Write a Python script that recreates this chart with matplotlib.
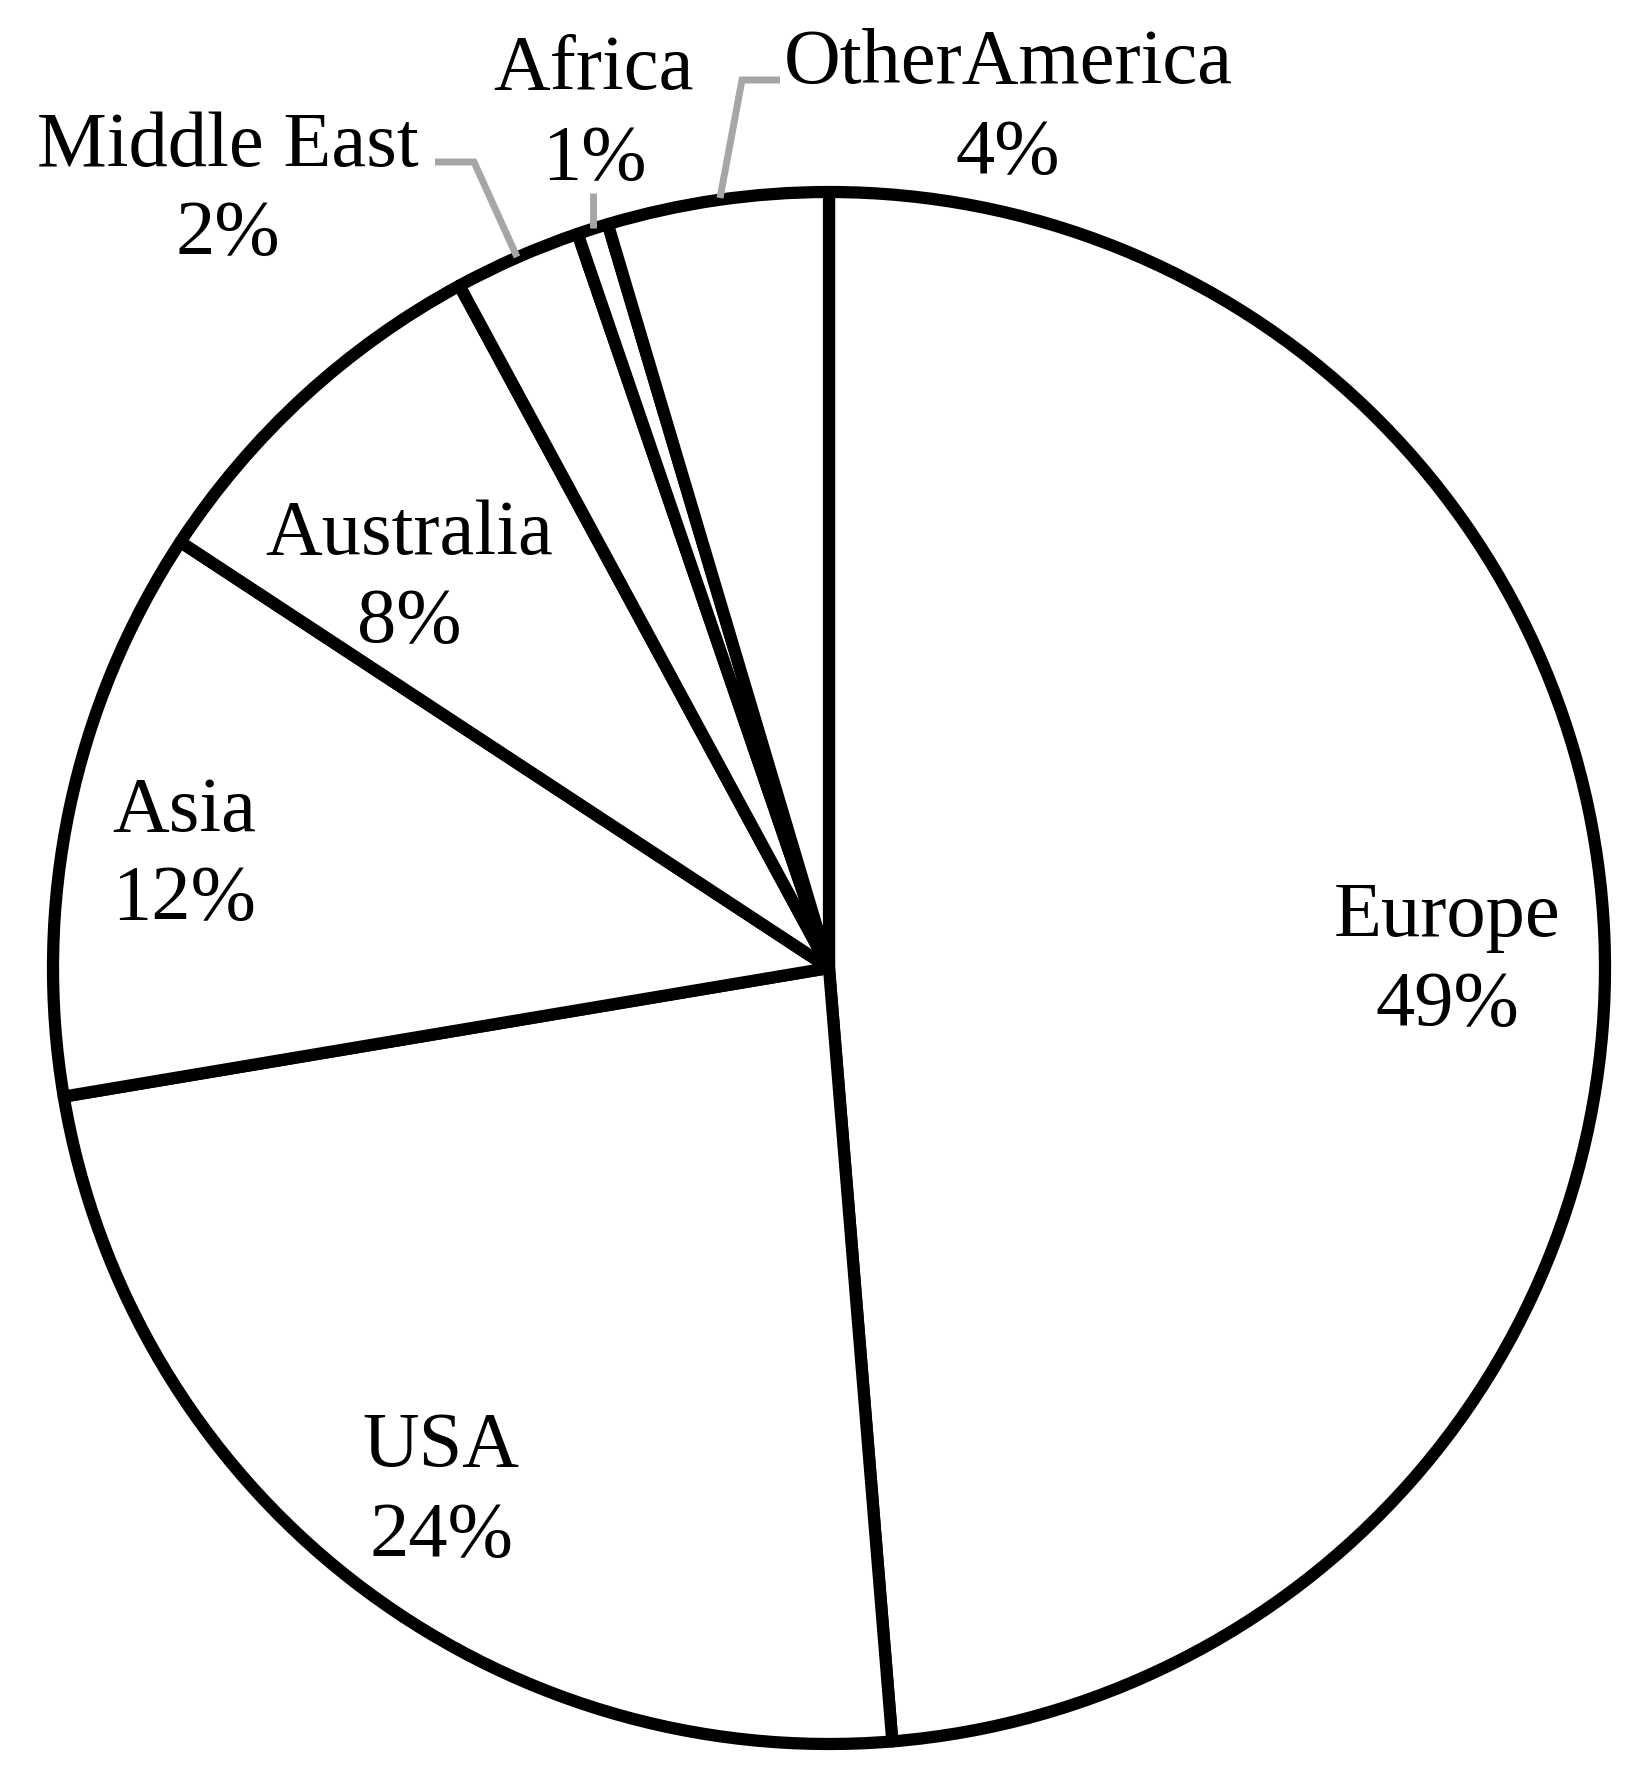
import matplotlib
matplotlib.use("Agg")
import matplotlib.pyplot as plt

# ---- data ----
regions = ["Europe", "USA", "Asia", "Australia", "Middle East", "Africa", "OtherAmerica"]
shares = [48.7, 23.65, 11.9, 7.85, 2.65, 0.65, 4.6]
pct_labels = ["49%", "24%", "12%", "8%", "2%", "1%", "4%"]

# ---- layout (pixel coordinates, y measured from top) ----
W, H = 1641, 1772
CX, CY, R = 829, 968, 776
label_pos = {  # center x, baseline of name, baseline of percentage
    "Europe": (1447, 936, 1025),
    "USA": (441, 1466, 1556),
    "Asia": (184, 831, 919),
    "Australia": (409, 554, 642),
    "Middle East": (228, 166, 254),
    "Africa": (594, 89, 179),
    "OtherAmerica": (1008, 83, 173),
}
leaders = [
    [(435, 162), (474, 162), (517, 257)],
    [(593, 193), (593, 228)],
    [(780, 80), (742, 80), (720, 198)],
]

def yu(y):
    return H - y

fig = plt.figure(figsize=(W / 100, H / 100), dpi=100)
ax = fig.add_axes([0, 0, 1, 1])
ax.pie(shares, center=(CX, yu(CY)), radius=R, startangle=90, counterclock=False,
       wedgeprops=dict(facecolor="white", edgecolor="black", linewidth=8.8,
                       joinstyle="round"))
ax.set_xlim(0, W)
ax.set_ylim(0, H)
ax.set_aspect("auto")
ax.axis("off")

font = dict(family=["Liberation Serif", "DejaVu Serif"], fontsize=56.5, color="black",
            ha="center", va="baseline")
for name, pct in zip(regions, pct_labels):
    x, b1, b2 = label_pos[name]
    ax.text(x, yu(b1), name, **font)
    ax.text(x, yu(b2), pct, **font)

for pts in leaders:
    xs = [p[0] for p in pts]
    ys = [yu(p[1]) for p in pts]
    ax.plot(xs, ys, color="#a6a6a6", linewidth=5, solid_capstyle="butt",
            solid_joinstyle="miter")

fig.savefig("out.png", dpi=100, facecolor="white")
